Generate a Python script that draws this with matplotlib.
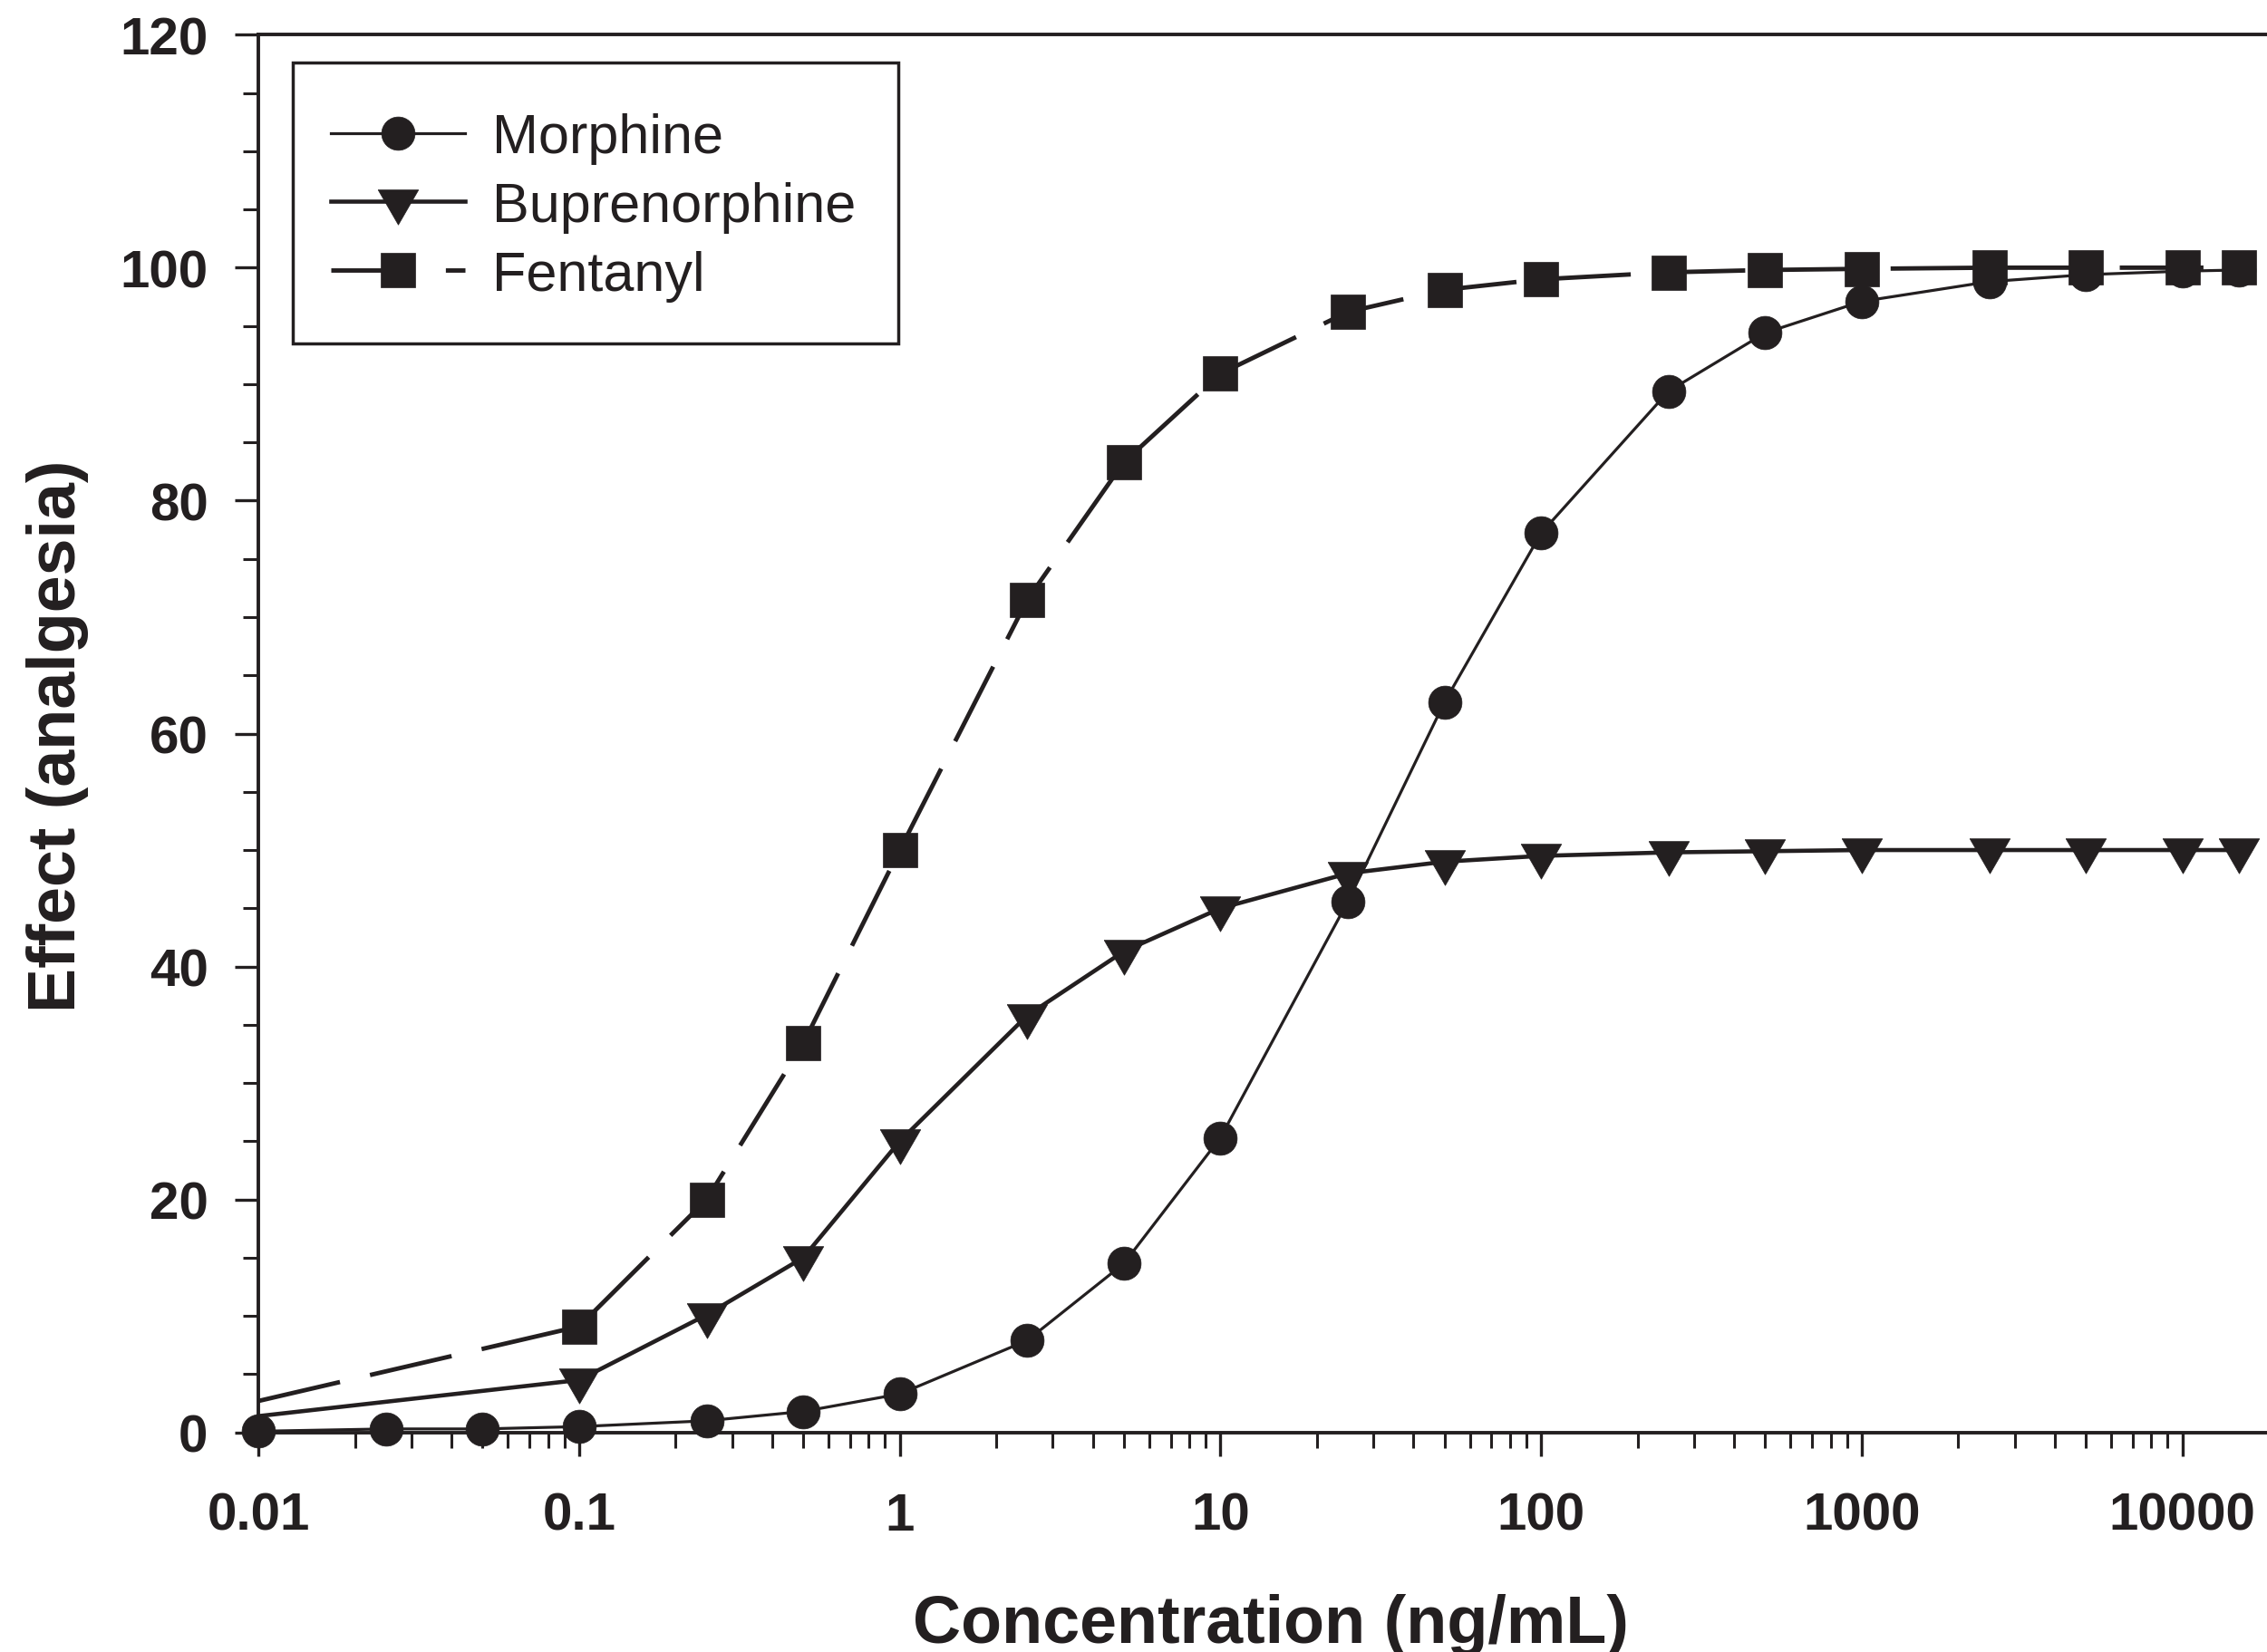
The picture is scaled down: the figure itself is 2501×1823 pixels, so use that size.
import matplotlib
matplotlib.use("Agg")
import matplotlib.pyplot as plt
from matplotlib.patches import Rectangle
from matplotlib.ticker import FixedLocator, LogLocator, NullFormatter, MultipleLocator

plt.rcParams['font.family'] = ['Liberation Sans', 'DejaVu Sans']

# ---- data ----
conc_morphine = [0.01, 0.025, 0.05, 0.1, 0.25, 0.5, 1, 2.5, 5, 10, 25, 50,
                 100, 250, 500, 1000, 2500, 5000, 10000, 15000]
morphine = [0.1, 0.3, 0.3, 0.5, 1.0, 1.8, 3.3, 7.9, 14.5, 25.3, 45.6, 62.7,
            77.2, 89.4, 94.4, 97.1, 98.8, 99.4, 99.7, 99.8]

conc_other = [0.01, 0.1, 0.25, 0.5, 1, 2.5, 5, 10, 25, 50, 100, 250, 500,
              1000, 2500, 5000, 10000, 15000]
buprenorphine = [1.4, 4.5, 10.1, 15.0, 25.0, 35.8, 41.3, 45.0, 48.0, 49.0,
                 49.5, 49.8, 49.9, 50.0, 50.0, 50.0, 50.0, 50.0]
fentanyl = [2.7, 9.1, 20.0, 33.4, 50.0, 71.5, 83.3, 90.9, 96.2, 98.1, 99.0,
            99.6, 99.8, 99.9, 100.0, 100.0, 100.0, 100.0]

xtick_vals = [0.01, 0.1, 1, 10, 100, 1000, 10000]
xtick_labels = ["0.01", "0.1", "1", "10", "100", "1000", "10000"]
ytick_vals = [0, 20, 40, 60, 80, 100, 120]

ink = '#231f20'

fig = plt.figure(figsize=(25.01, 18.24), dpi=100)
ax = fig.add_axes([0.1140, 0.13284, 1 - 0.1140, 0.84561])

tri = [(-1, 0.577), (1, 0.577), (0, -1.155), (-1, 0.577)]

ax.plot(conc_morphine, morphine, color=ink, lw=2.3, marker='o', ms=26.5,
        mfc=ink, mec=ink, mew=0.5, clip_on=False, zorder=4, label='Morphine')
ax.plot(conc_other, buprenorphine, color=ink, lw=3.3, marker=tri, ms=37,
        mfc=ink, mec=ink, mew=0.5, markevery=slice(1, None), clip_on=False,
        zorder=4, label='Buprenorphine')
ax.plot(conc_other, fentanyl, color=ink, lw=3.5, dashes=(19, 7), marker='s',
        ms=27.5, mfc=ink, mec=ink, mew=0.5, markevery=slice(1, None),
        clip_on=False, zorder=4, label='Fentanyl')

ax.set_xscale('log')
ax.set_xlim(0.01, 18370)
ax.set_ylim(0, 120)

ax.xaxis.set_major_locator(FixedLocator(xtick_vals))
ax.set_xticklabels(xtick_labels)
ax.xaxis.set_minor_locator(LogLocator(base=10, subs=range(2, 10), numticks=20))
ax.xaxis.set_minor_formatter(NullFormatter())
ax.yaxis.set_major_locator(FixedLocator(ytick_vals))
ax.yaxis.set_minor_locator(MultipleLocator(5))

for side in ['left', 'bottom', 'top']:
    ax.spines[side].set_linewidth(2.8)
    ax.spines[side].set_color(ink)
ax.spines['right'].set_visible(False)

ax.tick_params(which='major', direction='out', length=19, width=2.4,
               color=ink, labelcolor=ink, labelsize=42)
ax.tick_params(which='minor', direction='out', length=12, width=2.2, color=ink)
ax.tick_params(axis='x', which='major', pad=28)
ax.tick_params(axis='y', which='major', pad=21)
for lab in ax.get_xticklabels() + ax.get_yticklabels():
    lab.set_fontweight('bold')

fig.text(0.5606, 0.006, 'Concentration (ng/mL)', ha='center', va='baseline',
         fontsize=53, fontweight='bold', color=ink)
fig.text(0.0332, 0.5548, 'Effect (analgesia)', rotation=90, rotation_mode='anchor',
         ha='center', va='baseline', fontsize=53, fontweight='bold', color=ink)

# legend frame drawn as a plain rectangle (inside the axes so the legend sits on top)
ax.add_patch(Rectangle((0.1292, 0.7917), 0.2671, 0.1699,
                       transform=fig.transFigure, fill=True, clip_on=False,
                       facecolor='white', edgecolor=ink, linewidth=2.5,
                       zorder=6))
leg = ax.legend(loc='upper left', bbox_to_anchor=(0.1459, 0.9315),
                bbox_transform=fig.transFigure, borderaxespad=0,
                fontsize=44, handlelength=2.42, handletextpad=0.5,
                borderpad=0, labelspacing=0.31, numpoints=1,
                frameon=False)
leg.set_zorder(10)
for t in leg.get_texts():
    t.set_color(ink)

fig.savefig('out.png', dpi=100)
